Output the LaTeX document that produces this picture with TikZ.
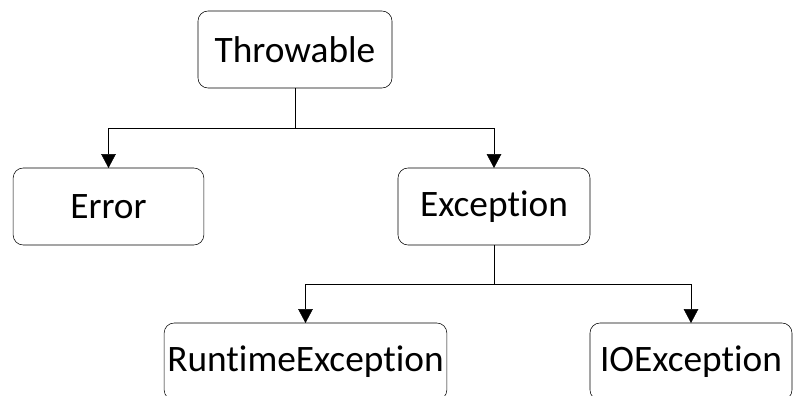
\documentclass[tikz,border=0pt]{standalone}
\usepackage{fontspec}
\setmainfont{Carlito}[Ligatures=NoCommon]
\usetikzlibrary{arrows.meta,calc,positioning}
\tikzset{
  x=0.75pt,y=-0.75pt,
  >={Triangle[width=11pt,length=10.5pt]},
  every node/.style={outer sep=0mm,inner sep=0mm},
  line width=1.5pt
}
\tikzset{class/.style={
    draw,
    rounded corners=7.5pt,
    minimum width=#1,
    minimum height=57.75pt,
    align=center,
    font=\fontsize{28}{34}\selectfont
  },
  class/.default=145pt}

\begin{document}
\begin{tikzpicture}
  \path [use as bounding box] (0,0) rectangle (793,396);
  \clip (0,0) rectangle (793,396);

  \node (Throwable) [class=145.5pt] at (295,49.5)    {Throwable};
  \node (Error)     [class=143pt]   at (108.5,206.5) {Error};
  \node (Exception) [class=144pt]   at (494,206.5)   {Exception};

  \node (Runtime)   [class=212pt]   at (305.5,361.5) {RuntimeException};
  \node (IO)        [class=151.5pt] at (691,361.5)   {IOException};

  \coordinate (fork1) at ($(Throwable.south)!0.5!(Throwable.south|-Error.north)$);
  \coordinate (fork2) at ($(Exception.south)!0.5!(Exception.south|-Runtime.north)$);

  \draw (Throwable.south) -- (fork1);
  \draw [->] (fork1) -| (Error.north);
  \draw [->] (fork1) -| (Exception.north);

  \draw (Exception.south) -- (fork2);
  \draw [->] (fork2) -| (Runtime.north);
  \draw [->] (fork2) -| (IO.north);
\end{tikzpicture}
\end{document}
